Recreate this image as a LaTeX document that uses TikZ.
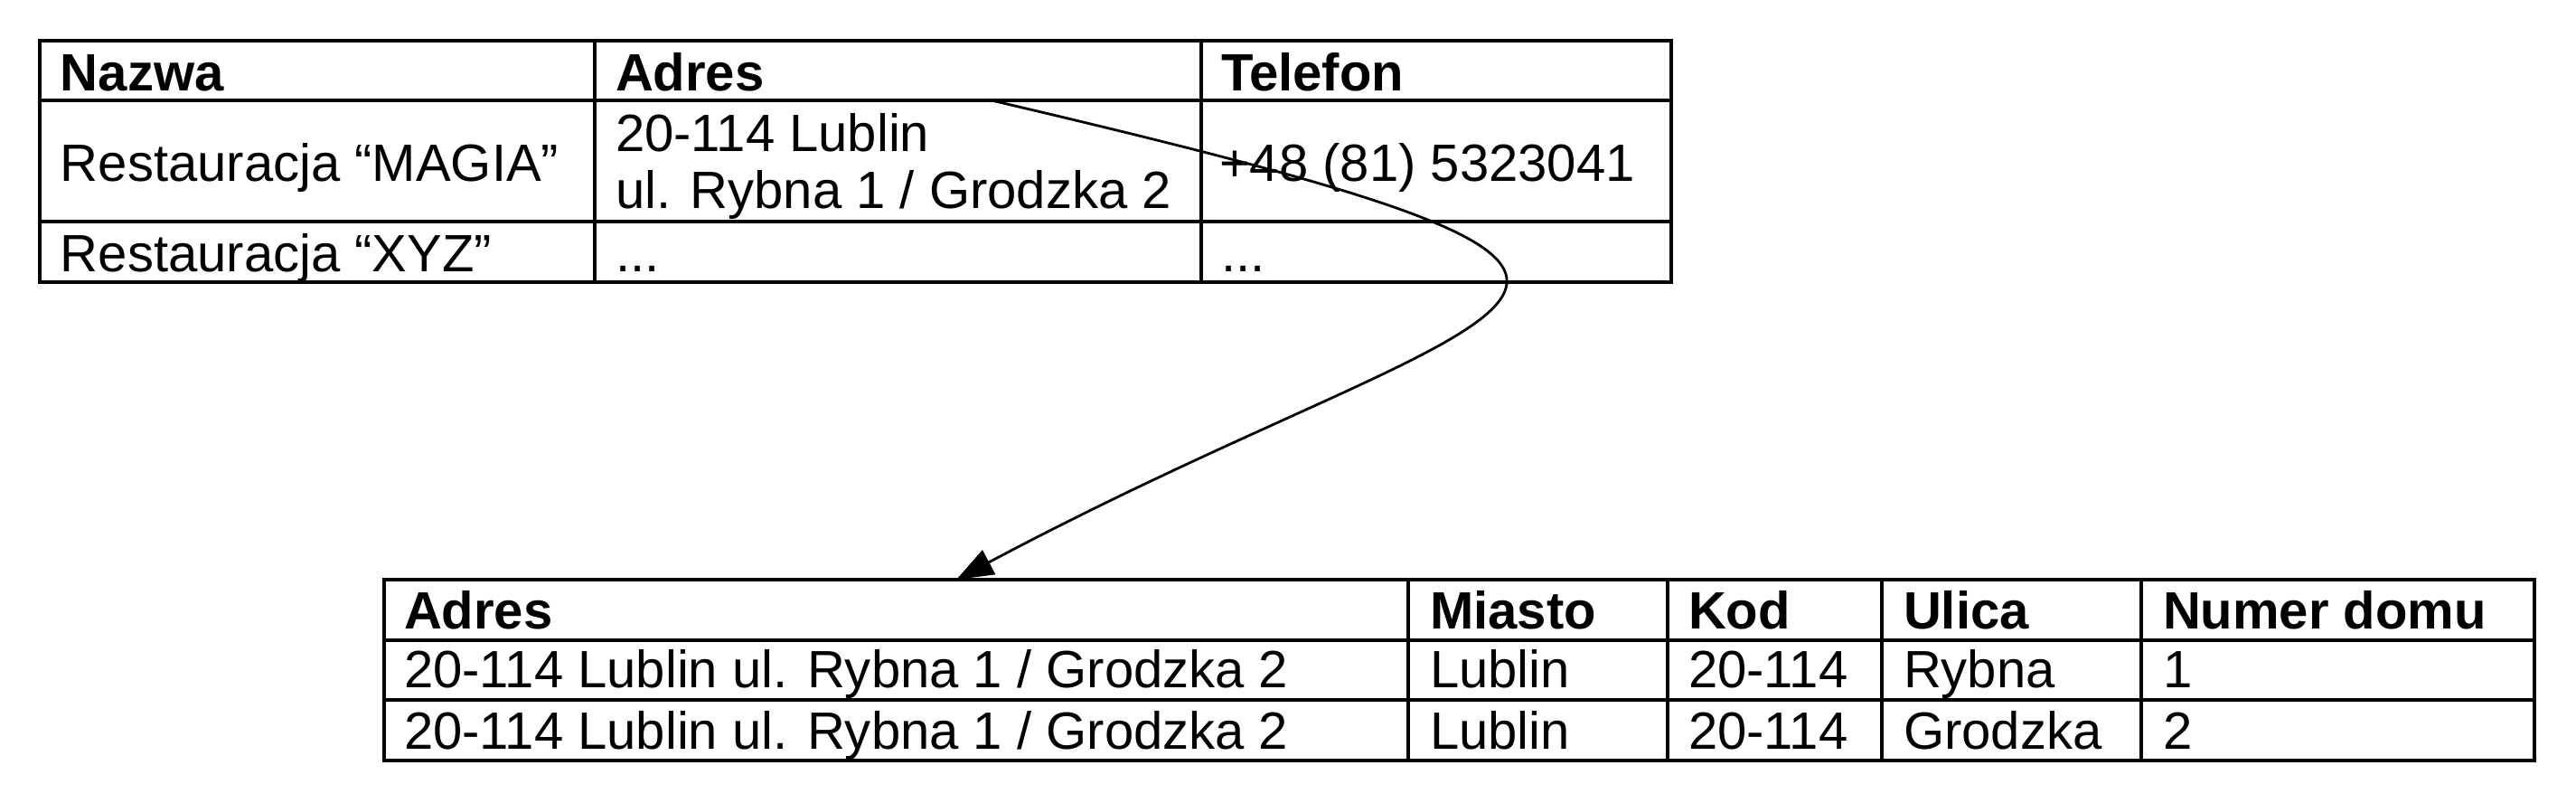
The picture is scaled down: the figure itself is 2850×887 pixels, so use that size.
\documentclass[tikz,border=0pt]{standalone}
\usepackage{fontspec}
\setmainfont{Liberation Sans}
\usetikzlibrary{arrows.meta}

\begin{document}
\begin{tikzpicture}[
		x=0.01cm, y=-0.01cm,
		every node/.style = {inner sep=0pt, outer sep=0pt, anchor=base west,
				font=\fontsize{16.5}{19}\selectfont},
		head/.style = {font=\fontsize{16.5}{19}\selectfont\bfseries},
		frame/.style = {draw, line width=0.9pt},
		line/.style = {draw, line width=0.8pt, -{Triangle[length=0.41cm, width=0.3cm]}},
	]
	\useasboundingbox (0,0) rectangle (2850,887);

	% Restaurants table
	\path [frame] (44,45) rectangle (1849,312);
	\foreach \y in {111,245}
	\path [frame] (44,\y) -- (1849,\y);
	\foreach \x in {658,1329}
	\path [frame] (\x,45) -- (\x,312);

	% Restaurants header
	\node [head] (nazwa) at (67,100) {Nazwa};
	\node [head] (adres) at (681,100) {Adres};
	\node [head] (telefon) at (1351,100) {Telefon};

	% Restaurants rows
	\node (magia) at (67,200) {Restauracja “MAGIA”};
	\node (magiaadres) at (681,167) {20-114 Lublin};
	\node (magiaulica) at (681,230) {ul. Rybna 1 / Grodzka 2};
	\node (magiatel) at (1349,200) {+48 (81) 5323041};
	\node (xyz) at (67,300) {Restauracja “XYZ”};
	\node (xyzadres) at (681,300) {...};
	\node (xyztel) at (1351,300) {...};

	% Address table
	\path [frame] (425,641) rectangle (2804,841);
	\foreach \y in {708,774}
	\path [frame] (425,\y) -- (2804,\y);
	\foreach \x in {1558,1845,2082,2369}
	\path [frame] (\x,641) -- (\x,841);

	% Address header
	\node [head] (hadres) at (447,695) {Adres};
	\node [head] (hmiasto) at (1582,695) {Miasto};
	\node [head] (hkod) at (1868,695) {Kod};
	\node [head] (hulica) at (2106,695) {Ulica};
	\node [head] (hnumer) at (2393,695) {Numer domu};

	% Address rows
	\foreach \y/\ulica/\nr [count=\i] in {760/Rybna/1, 828/Grodzka/2} {
		\node (adres\i) at (447,\y) {20-114 Lublin ul. Rybna 1 / Grodzka 2};
		\node (miasto\i) at (1582,\y) {Lublin};
		\node (kod\i) at (1868,\y) {20-114};
		\node (ulica\i) at (2106,\y) {\ulica};
		\node (numer\i) at (2393,\y) {\nr};
	}

	% Draw arrow
	\coordinate (split) at (1097,111);
	\coordinate (target) at (1058,641);
	\path [line] (split) .. controls (2020,327) and (1676,312) .. (target);
\end{tikzpicture}
\end{document}
